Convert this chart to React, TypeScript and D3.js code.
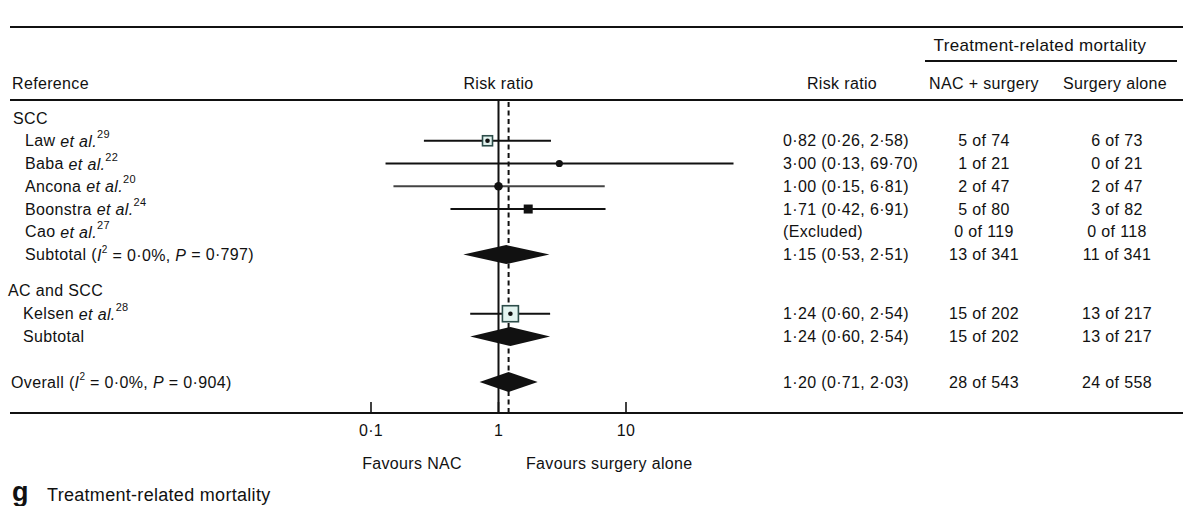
import React from "react";
import * as d3 from "d3";

// ---- data ----
const rowLabels = ["Law", "Baba", "Ancona", "Boonstra", "Cao", "Subtotal", "Kelsen", "Subtotal", "Overall"];
const rowRefs = ["29", "22", "20", "24", "27", "", "28", "", ""];
const rowKinds = ["study", "study", "study", "study", "excluded", "subtotal", "study", "subtotal", "overall"];
const rowMarkers = ["openBox", "dot", "bigDot", "square", "none", "diamond", "openBox", "diamond", "diamond"];
const rowIndex = [1, 2, 3, 4, 5, 6, 8.6, 9.6, 11.6];
const rrValues = [0.82, 3.0, 1.0, 1.71, NaN, 1.15, 1.24, 1.24, 1.2];
const ciLow = [0.26, 0.13, 0.15, 0.42, NaN, 0.53, 0.6, 0.6, 0.71];
const ciHigh = [2.58, 69.7, 6.81, 6.91, NaN, 2.51, 2.54, 2.54, 2.03];
const rrTexts = [
  "0·82 (0·26, 2·58)",
  "3·00 (0·13, 69·70)",
  "1·00 (0·15, 6·81)",
  "1·71 (0·42, 6·91)",
  "(Excluded)",
  "1·15 (0·53, 2·51)",
  "1·24 (0·60, 2·54)",
  "1·24 (0·60, 2·54)",
  "1·20 (0·71, 2·03)",
];
const nacCounts = ["5 of 74", "1 of 21", "2 of 47", "5 of 80", "0 of 119", "13 of 341", "15 of 202", "15 of 202", "28 of 543"];
const surgCounts = ["6 of 73", "0 of 21", "2 of 47", "3 of 82", "0 of 118", "11 of 341", "13 of 217", "13 of 217", "24 of 558"];
const groupLabels = ["SCC", "AC and SCC"];
const groupIndex = [0, 7.6];
const subtotalStats = ["0·0%", "0·797"];
const overallStats = ["0·0%", "0·904"];
const tickValues = [0.1, 1, 10];
const tickLabels = ["0·1", "1", "10"];
const pooledRR = 1.2;

const W = 1185;
const H = 506;
const FONT = "'Liberation Sans', Arial, Helvetica, sans-serif";

export default function App() {
  const x = d3.scaleLog().domain([0.1, 10]).range([371, 626]);
  const y = d3.scaleLinear().domain([0, 11.6]).range([118, 382]);
  const axisY = 413;
  const headY = 100;
  const topY = 27;
  const fs = 16;
  const ls = 0.35;

  const textProps = { fontFamily: FONT, fontSize: fs, letterSpacing: ls, fill: "#111" } as const;

  const diamond = (lo: number, mid: number, hi: number, cy: number, h: number) =>
    `M${x(lo)},${cy} L${x(mid)},${cy - h} L${x(hi)},${cy} L${x(mid)},${cy + h} Z`;

  const labelFor = (i: number) => {
    const kind = rowKinds[i];
    const name = rowLabels[i];
    if (kind === "study" || kind === "excluded") {
      return (
        <>
          {name + " "}
          <tspan fontStyle="italic">et al.</tspan>
          <tspan fontSize={11} dy={-7}>{rowRefs[i]}</tspan>
        </>
      );
    }
    if (kind === "subtotal" && i === 5) {
      return (
        <>
          {name + " ("}
          <tspan fontStyle="italic">I</tspan>
          <tspan fontSize={10} dy={-6}>2</tspan>
          <tspan dy={6}>{" = " + subtotalStats[0] + ", "}</tspan>
          <tspan fontStyle="italic">P</tspan>
          {" = " + subtotalStats[1] + ")"}
        </>
      );
    }
    if (kind === "overall") {
      return (
        <>
          {name + " ("}
          <tspan fontStyle="italic">I</tspan>
          <tspan fontSize={10} dy={-6}>2</tspan>
          <tspan dy={6}>{" = " + overallStats[0] + ", "}</tspan>
          <tspan fontStyle="italic">P</tspan>
          {" = " + overallStats[1] + ")"}
        </>
      );
    }
    return name;
  };

  const labelX = (i: number) => (rowKinds[i] === "overall" ? 11 : i >= 6 ? 23 : 25);

  return (
    <svg width={W} height={H} style={{ position: "absolute", left: 0, top: 0, background: "#fff" }}>
      <rect x={0} y={0} width={W} height={H} fill="#fff" />
      {/* horizontal rules */}
      <line x1={10} x2={1183} y1={topY} y2={topY} stroke="#111" strokeWidth={2} />
      <line x1={10} x2={1183} y1={headY} y2={headY} stroke="#111" strokeWidth={2} />
      <line x1={925} x2={1177} y1={61} y2={61} stroke="#111" strokeWidth={1.8} />
      <line x1={10} x2={1183} y1={axisY} y2={axisY} stroke="#111" strokeWidth={2} />

      {/* headers */}
      <text {...textProps} fontSize={17} x={1040} y={45} textAnchor="middle" dominantBaseline="central">Treatment-related mortality</text>
      <text {...textProps} x={12} y={83} dominantBaseline="central">Reference</text>
      <text {...textProps} x={x(1)} y={83} textAnchor="middle" dominantBaseline="central">Risk ratio</text>
      <text {...textProps} x={842} y={83} textAnchor="middle" dominantBaseline="central">Risk ratio</text>
      <text {...textProps} x={984} y={83} textAnchor="middle" dominantBaseline="central">NAC + surgery</text>
      <text {...textProps} x={1115} y={83} textAnchor="middle" dominantBaseline="central">Surgery alone</text>

      {/* reference lines */}
      <line x1={x(1)} x2={x(1)} y1={headY} y2={axisY} stroke="#111" strokeWidth={2} />
      <line x1={x(pooledRR)} x2={x(pooledRR)} y1={headY + 2} y2={axisY} stroke="#111" strokeWidth={2} strokeDasharray="5,3.5" />

      {/* group labels */}
      {groupLabels.map((g, k) => (
        <text key={g} {...textProps} x={k === 0 ? 13 : 8} y={y(groupIndex[k])} dominantBaseline="central">{g}</text>
      ))}

      {/* rows */}
      {rowLabels.map((_, i) => {
        const cy = y(rowIndex[i]);
        const m = rowMarkers[i];
        const rr = rrValues[i];
        return (
          <g key={i}>
            <text {...textProps} x={labelX(i)} y={cy} dominantBaseline="central">{labelFor(i)}</text>
            <text {...textProps} x={783} y={cy} dominantBaseline="central">{rrTexts[i]}</text>
            <text {...textProps} x={984} y={cy} textAnchor="middle" dominantBaseline="central">{nacCounts[i]}</text>
            <text {...textProps} x={1117} y={cy} textAnchor="middle" dominantBaseline="central">{surgCounts[i]}</text>
            {(m === "openBox" || m === "dot" || m === "bigDot" || m === "square") && (
              <line x1={x(ciLow[i])} x2={x(ciHigh[i])} y1={cy} y2={cy}
                stroke={m === "bigDot" ? "#444" : "#111"} strokeWidth={2} />
            )}
            {m === "openBox" && (() => {
              const s = i === 0 ? 10 : 16;
              return (
                <g>
                  <rect x={x(rr) - s / 2} y={cy - s / 2} width={s} height={s} fill="#e3f4f0" stroke="#2d4d4a" strokeWidth={1.6} />
                  <circle cx={x(rr)} cy={cy} r={2.3} fill="#111" />
                </g>
              );
            })()}
            {m === "dot" && <circle cx={x(rr)} cy={cy} r={3.6} fill="#111" />}
            {m === "bigDot" && <circle cx={x(rr)} cy={cy} r={4.3} fill="#111" />}
            {m === "square" && <rect x={x(rr) - 4.5} y={cy - 4.5} width={9} height={9} fill="#111" />}
            {m === "diamond" && (
              <path d={diamond(ciLow[i], rr, ciHigh[i], cy, rowKinds[i] === "overall" ? 10 : 9.5)} fill="#111" />
            )}
          </g>
        );
      })}

      {/* axis ticks */}
      {tickValues.map((t, k) => (
        <g key={t}>
          <line x1={x(t)} x2={x(t)} y1={axisY - 11} y2={axisY} stroke="#111" strokeWidth={1.6} />
          <text {...textProps} x={x(t)} y={430} textAnchor="middle" dominantBaseline="central">{tickLabels[k]}</text>
        </g>
      ))}
      <text {...textProps} x={462} y={463} textAnchor="end" dominantBaseline="central">Favours NAC</text>
      <text {...textProps} x={526} y={463} dominantBaseline="central">Favours surgery alone</text>

      {/* panel caption */}
      <text x={12} y={492} fontFamily={FONT} fontSize={27} fontWeight="bold" fill="#111" dominantBaseline="central">g</text>
      <text {...textProps} fontSize={18} letterSpacing={0.3} x={47} y={495} dominantBaseline="central">Treatment-related mortality</text>
    </svg>
  );
}
